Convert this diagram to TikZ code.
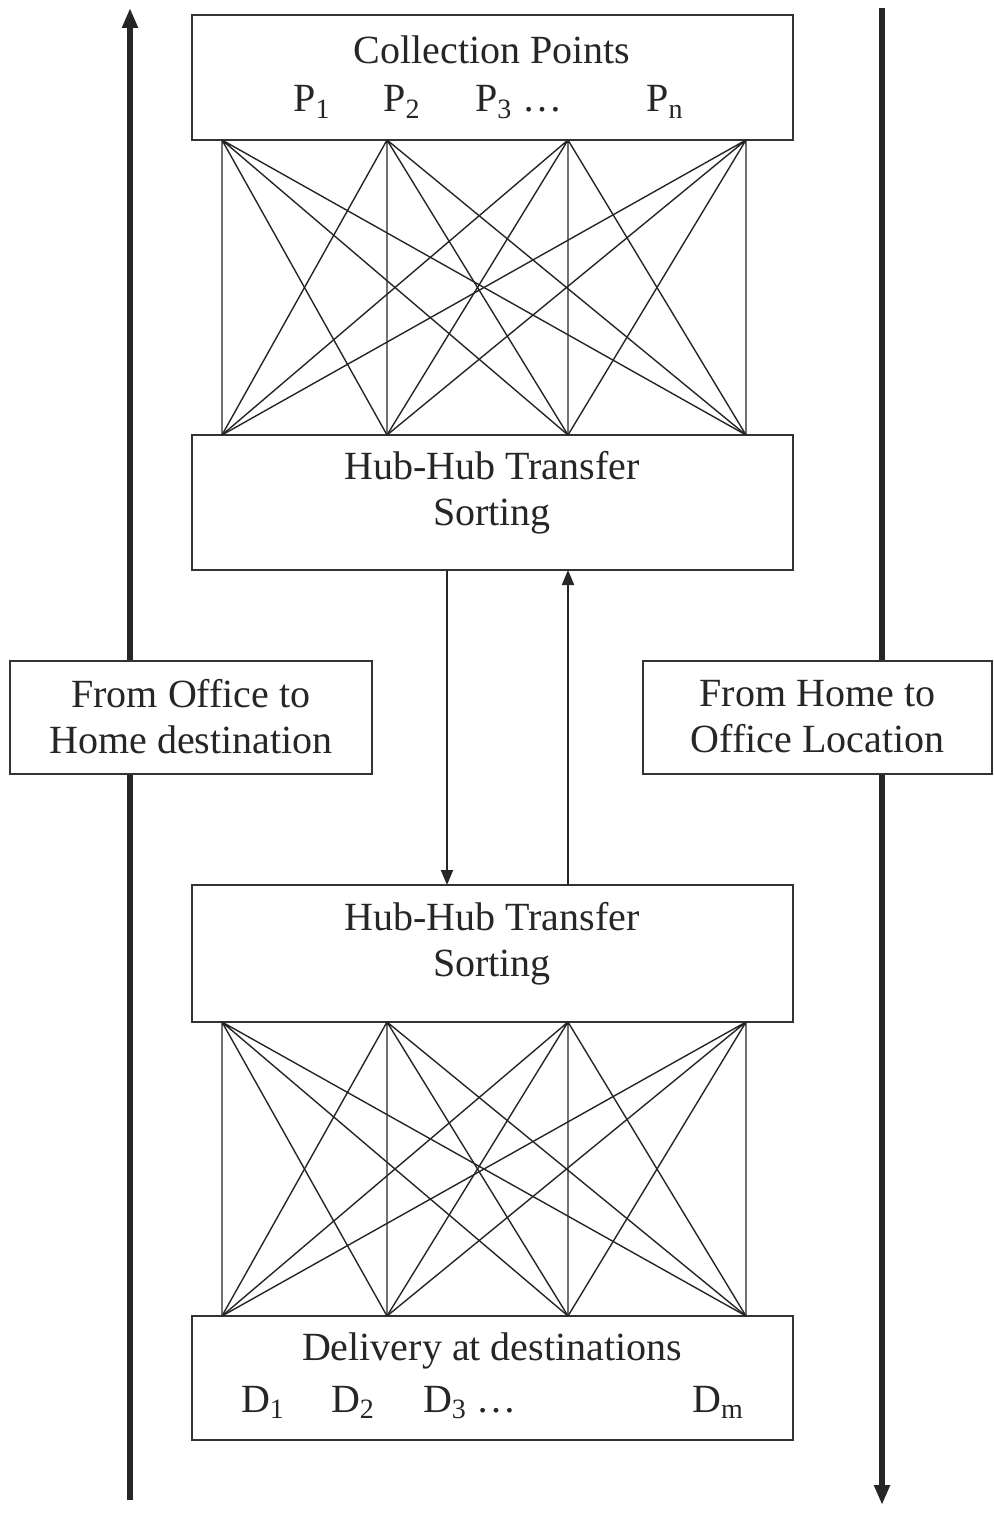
\documentclass[tikz,border=0pt]{standalone}
\usepackage{fontspec}
\setmainfont{Liberation Serif}
\usetikzlibrary{arrows.meta}

\begin{document}
\begin{tikzpicture}[x=0.5pt, y=-0.5pt,
        every node/.style={font=\fontsize{20}{23}\selectfont, text=black!85},
        box/.style={draw=black!80, line width=1pt, fill=white, inner sep=0pt},
        link/.style={draw=black!85, line width=0.7pt},
        flow/.style={draw=black!85, line width=2.6pt, -{Triangle[length=10pt, width=7.5pt]}},
        hubflow/.style={draw=black!85, line width=1pt, -{Triangle[length=7.5pt, width=6pt]}}]
                \useasboundingbox (0, 0) rectangle (993, 1513);
                % Direction arrows
                \coordinate (upstart) at (130, 1500);
                \coordinate (upend) at (130, 8);
                \coordinate (downstart) at (882, 8);
                \coordinate (downend) at (882, 1505);
                \draw [flow] (upstart) -- (upend);
                \draw [flow] (downstart) -- (downend);
                % Boxes
                \node [box, minimum width=300.5pt, minimum height=62.5pt] (collect) at (492.5, 77.5) {};
                \node [box, minimum width=300.5pt, minimum height=67.5pt] (hubA) at (492.5, 502.5) {};
                \node [box, minimum width=300.5pt, minimum height=68.5pt] (hubB) at (492.5, 953.5) {};
                \node [box, minimum width=300.5pt, minimum height=62pt] (deliver) at (492.5, 1378) {};
                \node [box, minimum width=181pt, minimum height=56.5pt, align=center] (officehome) at (191, 717)
                        {From Office to\\Home destination};
                \node [box, minimum width=174.5pt, minimum height=56.5pt, align=center] (homeoffice) at (817.5, 717)
                        {From Home to\\Office Location};
                % Texts
                \node (collecttitle) at (492, 50) {Collection Points};
                \node [anchor=base] (pa) at (312, 112) {P\textsubscript{1}};
                \node [anchor=base] (pb) at (402, 112) {P\textsubscript{2}};
                \node [anchor=base west] (pc) at (468, 112) {P\textsubscript{3} \dots};
                \node [anchor=base] (pn) at (665, 112) {P\textsubscript{n}};
                \node [align=center] (hubAtext) at (492, 493) {Hub-Hub Transfer\\Sorting};
                \node [align=center] (hubBtext) at (492, 944) {Hub-Hub Transfer\\Sorting};
                \node (delivertitle) at (492, 1351) {Delivery at destinations};
                \node [anchor=base] (da) at (263, 1412) {D\textsubscript{1}};
                \node [anchor=base] (db) at (353, 1412) {D\textsubscript{2}};
                \node [anchor=base west] (dc) at (416, 1412) {D\textsubscript{3} \dots};
                \node [anchor=base] (dm) at (718, 1412) {D\textsubscript{m}};
                % Hub to hub
                \coordinate (hubAout) at (447, 570);
                \coordinate (hubBin) at (447, 885);
                \coordinate (hubBout) at (568, 885);
                \coordinate (hubAin) at (568, 570);
                \draw [hubflow] (hubAout) -- (hubBin);
                \draw [hubflow] (hubBout) -- (hubAin);
                % Collection points to hub
                \coordinate (t1) at (222, 140);
                \coordinate (t2) at (387, 140);
                \coordinate (t3) at (568, 140);
                \coordinate (t4) at (746, 140);
                \coordinate (h1) at (222, 435);
                \coordinate (h2) at (387, 435);
                \coordinate (h3) at (568, 435);
                \coordinate (h4) at (746, 435);
                \draw [link] (t1) -- (h1) (t1) -- (h2) (t1) -- (h3) (t1) -- (h4);
                \draw [link] (t2) -- (h1) (t2) -- (h2) (t2) -- (h3) (t2) -- (h4);
                \draw [link] (t3) -- (h1) (t3) -- (h2) (t3) -- (h3) (t3) -- (h4);
                \draw [link] (t4) -- (h1) (t4) -- (h2) (t4) -- (h3) (t4) -- (h4);
                % Hub to delivery
                \coordinate (g1) at (222, 1022);
                \coordinate (g2) at (387, 1022);
                \coordinate (g3) at (568, 1022);
                \coordinate (g4) at (746, 1022);
                \coordinate (d1) at (222, 1316);
                \coordinate (d2) at (387, 1316);
                \coordinate (d3) at (568, 1316);
                \coordinate (d4) at (746, 1316);
                \draw [link] (g1) -- (d1) (g1) -- (d2) (g1) -- (d3) (g1) -- (d4);
                \draw [link] (g2) -- (d1) (g2) -- (d2) (g2) -- (d3) (g2) -- (d4);
                \draw [link] (g3) -- (d1) (g3) -- (d2) (g3) -- (d3) (g3) -- (d4);
                \draw [link] (g4) -- (d1) (g4) -- (d2) (g4) -- (d3) (g4) -- (d4);
\end{tikzpicture}
\end{document}
